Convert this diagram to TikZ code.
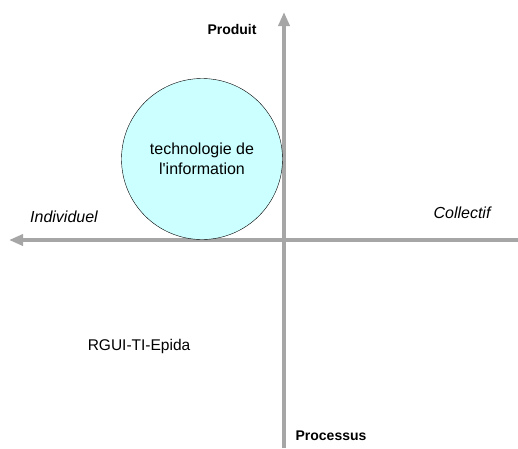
\documentclass[tikz,border=0pt]{standalone}
\usepackage{fontspec}
\setmainfont{Liberation Sans}
\usetikzlibrary{positioning,arrows.meta}
\definecolor{axisgrey}{HTML}{A6A6A6}
\definecolor{bubble}{HTML}{CCFFFF}

\begin{document}
\begin{tikzpicture}[x=1pt,y=-1pt,
  every node/.style={inner sep=0pt},
  axis/.style={line width=4pt,axisgrey,-{Triangle[length=14pt,width=11pt]}},
  pole/.style={font=\fontsize{14}{16}\selectfont\bfseries},
  side/.style={font=\fontsize{16}{18}\selectfont\itshape}]
  \useasboundingbox (0,0) rectangle (518,448);
  \coordinate (top) at (284,12);
  \coordinate (bottom) at (284,448);
  \coordinate (left) at (9,240);
  \coordinate (right) at (518,240);
  \draw[axis] (bottom) -- (top);
  \draw[axis] (right) -- (left);
  \node[circle,draw=black,fill=bubble,minimum size=161pt,align=center,
        font=\fontsize{16}{20}\selectfont] (ti) at (202,159) {technologie de\\l\textquotesingle information};
  \node[pole] (prod) at (232,29) {Produit};
  \node[pole] (proc) at (331,436) {Processus};
  \node[side] (indiv) at (64,217) {Individuel};
  \node[side] (coll) at (462,213) {Collectif};
  \node[font=\fontsize{15.5}{18}\selectfont] (rgui) at (139,346) {RGUI-TI-Epida};
\end{tikzpicture}
\end{document}
